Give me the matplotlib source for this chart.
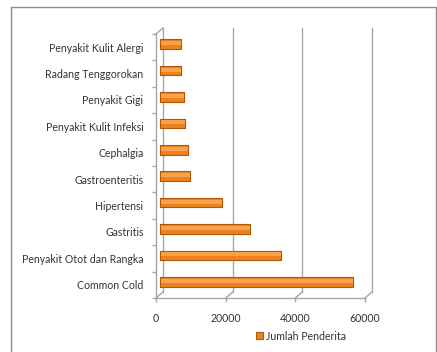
import matplotlib
matplotlib.use("Agg")
import matplotlib.pyplot as plt
import matplotlib.patches as mpatches
from matplotlib.transforms import ScaledTranslation

plt.rcParams['font.family'] = ['Lato', 'DejaVu Sans']

# data
penyakit = ['Common Cold', 'Penyakit Otot dan Rangka', 'Gastritis', 'Hipertensi',
            'Gastroenteritis', 'Cephalgia', 'Penyakit Kulit Infeksi', 'Penyakit Gigi',
            'Radang Tenggorokan', 'Penyakit Kulit Alergi']
jumlah = [55500, 34800, 26100, 17900, 8800, 8300, 7400, 7000, 6200, 6200]
xticks = [0, 20000, 40000, 60000]
seri = 'Jumlah Penderita'

W, H = 437, 352
fig = plt.figure(figsize=(W / 100, H / 100), dpi=100)
tc = '#333333'

# outer chart border
fig.patches.append(mpatches.Rectangle((10.5 / W, -0.05), 425.5 / W, 1.05 - 7 / H,
                                      transform=fig.transFigure, fill=False,
                                      edgecolor='#8c8c8c', linewidth=1.0))

# front plane of the plot area, in pixels
x0, x1, ytop, ybot = 156, 365, 34, 298
ax = fig.add_axes([x0 / W, 1 - ybot / H, (x1 - x0) / W, (ybot - ytop) / H])
ax.set_xlim(0, 60000)
ax.set_ylim(-0.5, len(penyakit) - 0.5)
for s in ax.spines.values():
    s.set_visible(False)
ax.patch.set_alpha(0)

# depth of the 3d box (pixels -> data units)
dpx, dpy = 7, 6
dx = dpx * 60000 / (x1 - x0)
dy = dpy * len(penyakit) / (ybot - ytop)
lo, hi = -0.5, len(penyakit) - 0.5
gc = '#a6a6a6'

# back wall gridlines and left wall
for v in xticks:
    ax.plot([v + dx, v + dx], [lo + dy, hi + dy], color=gc, lw=1.0, clip_on=False, zorder=1)
    ax.plot([v, v + dx], [lo, lo + dy], color=gc, lw=1.0, clip_on=False, zorder=1)
ax.plot([0, dx], [hi, hi + dy], color=gc, lw=1.0, clip_on=False, zorder=1)
ax.plot([0, 0], [lo, hi], color=gc, lw=1.0, clip_on=False, zorder=1)
ax.plot([0, 60000], [lo, lo], color=gc, lw=1.0, clip_on=False, zorder=1)

# bars sit halfway into the depth
mid = ax.transData + ScaledTranslation(dpx / 2 / 100, dpy / 2 / 100, fig.dpi_scale_trans)
y = range(len(penyakit))
bh = 0.37
bars = ax.barh(y, jumlah, height=bh, color='#ec8320', edgecolor='#b0570a',
               linewidth=0.8, zorder=3, label=seri)
for b in bars:
    b.set_transform(mid)
    b.set_joinstyle('round')
# lighter upper band for the cylinder look
hl = ax.barh([i + bh * 0.1 for i in y], [v - 300 for v in jumlah], height=bh * 0.4,
             left=300, color='#f8a24a', linewidth=0, zorder=4)
for b in hl:
    b.set_transform(mid)

# axis ticks and labels
ax.set_yticks(list(y))
ax.set_yticklabels(penyakit, fontsize=7.6, color=tc)
ax.set_yticks([i + 0.5 for i in range(-1, len(penyakit))], minor=True)
ax.tick_params(axis='y', which='major', length=0, pad=9)
ax.tick_params(axis='y', which='minor', length=3, color=gc, width=1.0)
ax.set_xticks(xticks)
ax.set_xticklabels([str(v) for v in xticks], fontsize=7.6, color=tc)
ax.tick_params(axis='x', length=3, color=gc, width=1.0, pad=8)

leg = fig.legend([bars], [seri], loc='center', bbox_to_anchor=(301 / W, 1 - 336 / H),
                 frameon=False, fontsize=7.6, handlelength=0.65, handleheight=0.65,
                 handletextpad=0.3, borderpad=0)
for t in leg.get_texts():
    t.set_color(tc)

fig.savefig('out.png', dpi=100)
